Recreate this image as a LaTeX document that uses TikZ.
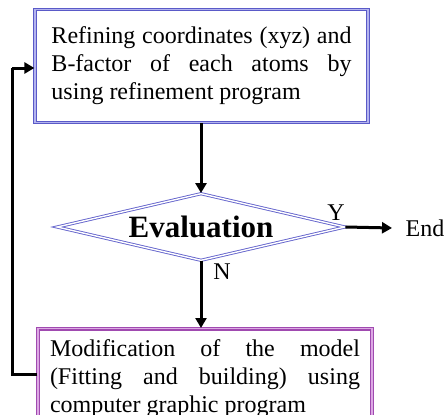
\documentclass[tikz,border=0pt]{standalone}
\usepackage{fontspec}
\setmainfont{Liberation Serif}
\usetikzlibrary{shapes.geometric,arrows.meta}
\definecolor{boxblue}{HTML}{5A5AC8}
\definecolor{boxblueL}{HTML}{B4B4EE}
\definecolor{boxpurple}{HTML}{A04AB0}
\definecolor{boxpurpleL}{HTML}{DDA8E4}
\definecolor{diamblue}{HTML}{6464CC}
\newcommand{\nohyph}{\hyphenpenalty=10000 \exhyphenpenalty=10000 }
\tikzset{
  x=1pt, y=-1pt,
  stepbox/.style={rectangle, draw=#1, line width=1.2pt, double distance=1.5pt,
    inner xsep=0pt, inner ysep=0pt, align=justify,
    font=\fontsize{24}{28}\selectfont\nohyph},
  decision/.style={diamond, draw=diamblue, double=white, line width=0.9pt,
    double distance=1.4pt, aspect=4.3, inner sep=0pt,
    minimum width=288pt, minimum height=67pt,
    font=\bfseries\fontsize{31}{34}\selectfont},
  flow/.style={line width=3pt, -{Triangle[length=10pt,width=11pt]}},
  lbl/.style={font=\fontsize{24}{28}\selectfont, inner sep=0pt},
}
\begin{document}
\begin{tikzpicture}
\useasboundingbox (0,0) rectangle (448,415);
% refinement step
\node[stepbox=boxblue, double=boxblueL, minimum width=333pt, minimum height=113pt,
      text width=300pt] (refine) at (201.5,66)
  {\nohyph Refining coordinates (xyz) and B-factor of each atoms by\linebreak using refinement program\par};
% evaluation
\node[decision] (eval) at (201,227) {Evaluation};
% model building step (runs past the lower edge)
\node[stepbox=boxpurple, double=boxpurpleL, minimum width=334pt, minimum height=100pt,
      text width=310pt, anchor=north] (model) at (205,328)
  {\nohyph Modification of the model (Fitting and building) using computer graphic program\par};
\node[lbl] (end) at (425,228) {End};
\node[lbl] (ylab) at (336,213) {Y};
\node[lbl] (nlab) at (222,272) {N};
\coordinate (refbot) at (refine.south -| eval.north);
\coordinate (modtop) at (model.north -| eval.south);
\coordinate (back) at (model.west |- 0,374);
\coordinate (into) at (refine.west |- 0,68);
\draw[flow] (refbot) -- (eval.north);
\draw[flow] (eval.east) -- (end.west -| 392,0);
\draw[flow] (eval.south) -- (modtop);
\draw[flow, -] (back) -- (12,374) -- (12,68);
\draw[flow] (12,68) -- (into);
\end{tikzpicture}
\end{document}
